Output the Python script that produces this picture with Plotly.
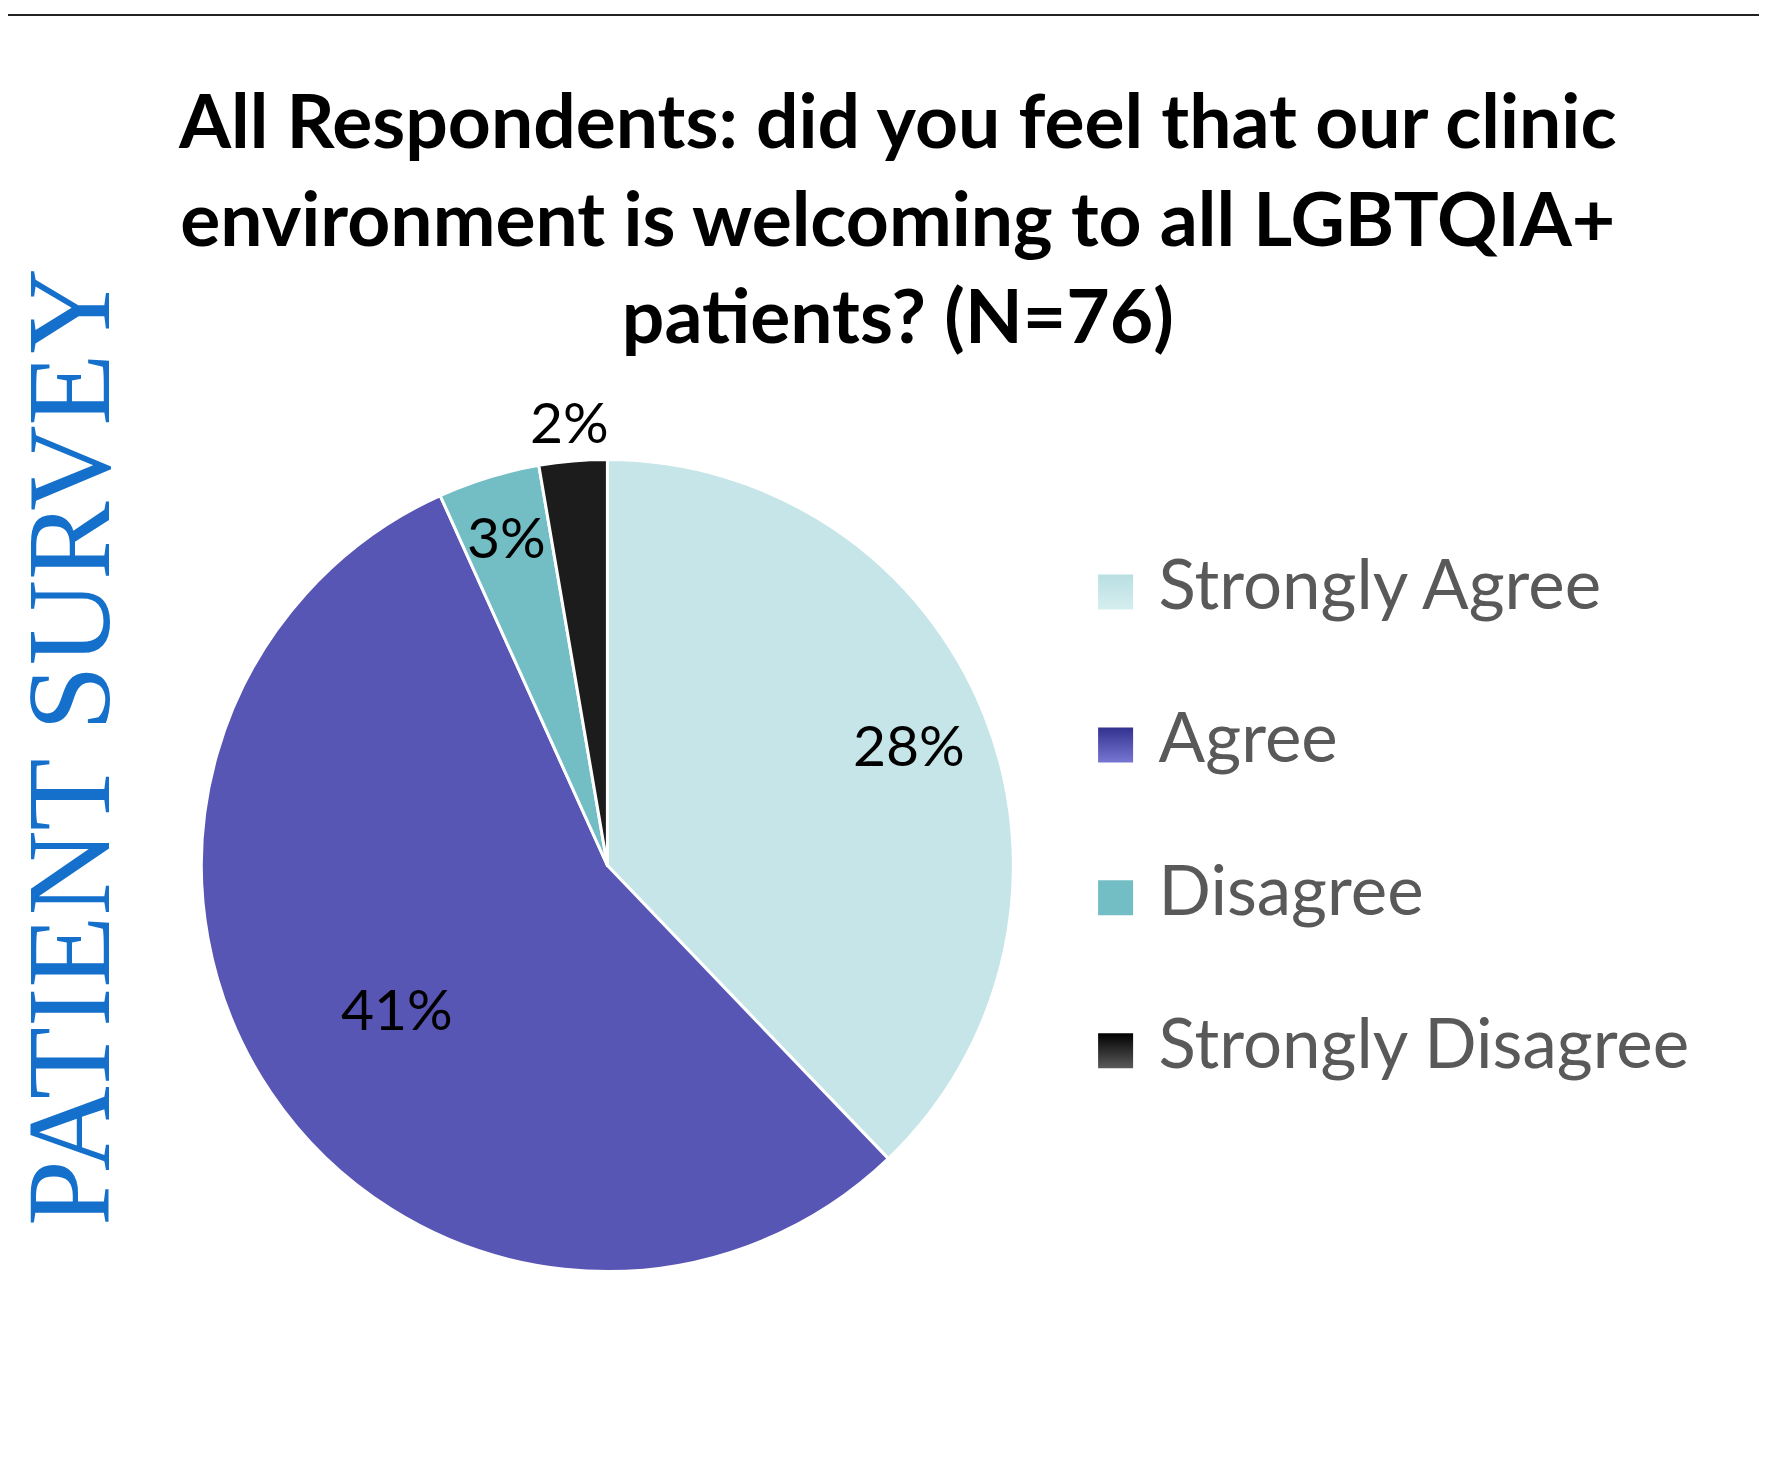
import math
import plotly.graph_objects as go

# ---- data ----
categories = ["Strongly Agree", "Agree", "Disagree", "Strongly Disagree"]
values = [28, 41, 3, 2]
value_labels = ["28%", "41%", "3%", "2%"]

# ---- styles ----
slice_colors = ["#c6e5e8", "#5856b4", "#73bec4", "#1c1c1c"]
legend_top_colors = ["#b8dfe2", "#33318f", "#73bec4", "#000000"]
legend_bottom_colors = ["#d6eef0", "#7776d2", "#73bec4", "#5a5a5a"]
label_radius = [0.80, 0.625, 0.85, 1.10]   # label distance from centre, as a fraction of the radius

title_text = ("All Respondents: did you feel that our clinic<br>"
              "environment is welcoming to all LGBTQIA+<br>"
              "patients? (N=76)")
side_text = "PATIENT SURVEY"

W, H = 1767, 1457


def px_x(p):
    return p / W


def px_y(p):
    return 1 - p / H


# pie geometry (pixels from top-left of the figure)
pie_cx, pie_cy, pie_r = 599.4, 857.5, 406
pie_dom_x = [px_x(pie_cx - pie_r), px_x(pie_cx + pie_r)]
pie_dom_y = [px_y(pie_cy + pie_r), px_y(pie_cy - pie_r)]

# label axes: same centre as the pie, extended so outside labels stay in range
ext = 1.25
lab_dom_x = [px_x(pie_cx - ext * pie_r), px_x(pie_cx + ext * pie_r)]
lab_dom_y = [px_y(pie_cy + ext * pie_r), px_y(pie_cy - ext * pie_r)]

fig = go.Figure()

fig.add_trace(go.Pie(
    labels=categories,
    values=values,
    sort=False,
    direction="clockwise",
    rotation=0,
    marker=dict(colors=slice_colors, line=dict(color="white", width=3)),
    textinfo="none",
    showlegend=False,
    hoverinfo="label+value",
    domain=dict(x=pie_dom_x, y=pie_dom_y),
))

# value labels at the middle angle of each slice
total = sum(values)
label_x, label_y = [], []
cum = 0
for v, rf in zip(values, label_radius):
    mid = (cum + v / 2) / total * 2 * math.pi
    cum += v
    label_x.append(rf * math.sin(mid))
    label_y.append(rf * math.cos(mid))

annotations = []
for lx, ly, txt in zip(label_x, label_y, value_labels):
    annotations.append(dict(
        text=txt, x=lx, y=ly, xref="x2", yref="y2",
        xanchor="center", yanchor="middle", showarrow=False,
        font=dict(family="Lato", size=57, color="black"),
    ))

# legend drawn as gradient squares with labels
fig.add_trace(go.Scatter(
    x=[0] * len(categories),
    y=list(range(len(categories))),
    mode="markers",
    marker=dict(symbol="square", size=35, color=legend_top_colors,
                gradient=dict(type="vertical", color=legend_bottom_colors),
                line=dict(width=0)),
    showlegend=False,
    hoverinfo="skip",
    cliponaxis=False,
    xaxis="x", yaxis="y",
))
fig.add_trace(go.Scatter(
    x=[0.06] * len(categories),
    y=list(range(len(categories))),
    mode="text",
    text=categories,
    textposition="middle right",
    textfont=dict(family="Lato", size=69, color="#595959"),
    showlegend=False,
    hoverinfo="skip",
    cliponaxis=False,
    xaxis="x", yaxis="y",
))

legend_x0 = 1050
legend_marker_x = 1107.6
a = (legend_marker_x - legend_x0) / (W - legend_x0)
row0, row_step = 584, 152.9

annotations += [
    dict(text="<b>" + title_text + "</b>", x=px_x(889), y=px_y(209),
         xref="paper", yref="paper", xanchor="center", yanchor="middle",
         showarrow=False, align="center",
         font=dict(family="Lato", size=75, color="black")),
    dict(text=side_text, x=px_x(61.4), y=px_y(738.6), xref="paper", yref="paper",
         xanchor="center", yanchor="middle", textangle=-90, showarrow=False,
         font=dict(family="Liberation Serif", size=118, color="#1570CC")),
]

fig.update_layout(
    width=W, height=H,
    margin=dict(l=0, r=0, t=0, b=0),
    paper_bgcolor="white",
    plot_bgcolor="rgba(0,0,0,0)",
    xaxis=dict(domain=[px_x(legend_x0), 1.0], range=[-a, 1 - a],
               visible=False, fixedrange=True),
    yaxis=dict(domain=[px_y(row0 + 3.5 * row_step), px_y(row0 - 0.5 * row_step)],
               range=[3.5, -0.5], visible=False, fixedrange=True),
    xaxis2=dict(domain=lab_dom_x, range=[-ext, ext], visible=False, fixedrange=True,
                anchor="y2"),
    yaxis2=dict(domain=lab_dom_y, range=[-ext, ext], visible=False, fixedrange=True,
                anchor="x2"),
    annotations=annotations,
    shapes=[
        dict(type="line", xref="paper", yref="paper", x0=0, x1=1,
             y0=px_y(7), y1=px_y(7), line=dict(color="#222222", width=2)),
    ],
)

fig.write_html("out.html")
